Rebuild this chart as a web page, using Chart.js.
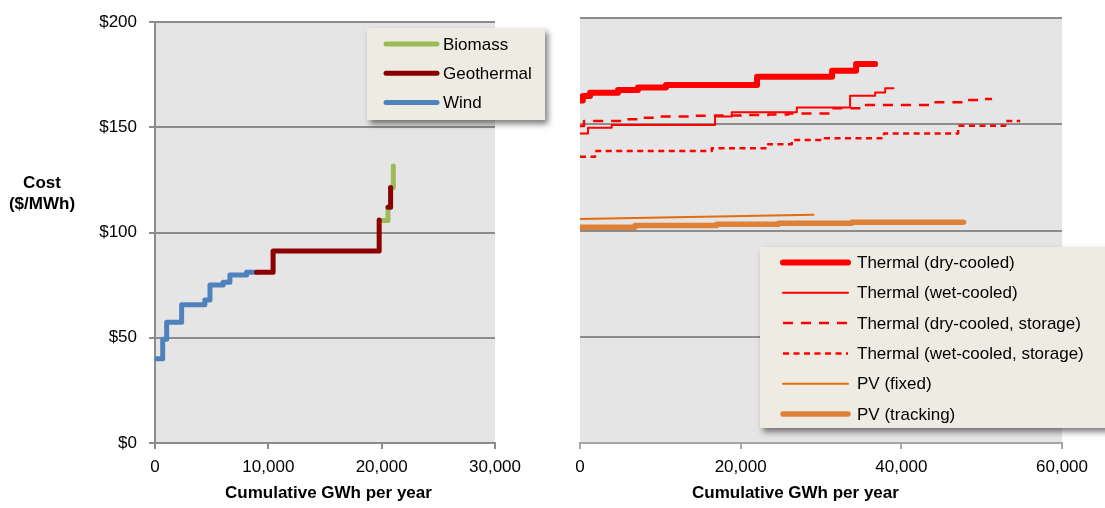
<!DOCTYPE html>
<html>
<head>
<meta charset="utf-8">
<script src="https://cdn.jsdelivr.net/npm/chart.js@4"></script>
<style>
  html, body { margin: 0; padding: 0; background: #fff; }
  #wrap { position: relative; width: 1105px; height: 508px; overflow: hidden; font-family: "Liberation Sans", Arial, sans-serif; }
  .pane { position: absolute; top: 0; height: 508px; }
  .ttl { position: absolute; font-weight: bold; font-size: 17px; line-height: 21px; color: #000; text-align: center; white-space: nowrap; }
</style>
</head>
<body>
<div id="wrap">
  <div class="pane" style="left:0;width:560px"><canvas id="supplyLeft" width="560" height="508"></canvas></div>
  <div class="pane" style="left:560px;width:545px"><canvas id="supplyRight" width="545" height="508"></canvas></div>
  <div class="ttl" style="left:0;width:84px;top:172px">Cost<br>($/MWh)</div>
  <div class="ttl" style="left:225px;width:200px;top:482px">Cumulative GWh per year</div>
  <div class="ttl" style="left:692px;width:200px;top:482px">Cumulative GWh per year</div>
</div>
<script>
// ---- Supply curves: cumulative generation (GWh/yr) vs. cost ($/MWh) ----

// Left panel
const windGWh  = [0, 680, 1030, 2350, 4400, 4850, 6020, 6610, 8080, 8960];
const windCost = [40, 49.3, 57.4, 65.7, 68, 75.1, 76.4, 79.8, 81.1, 81.1];

const geoGWh  = [8960, 10420, 19780, 19780, 20560, 20790];
const geoCost = [81.1, 91.3, 106, null, 112, 121.4];

const bioGWh  = [19780, 20560, 20560, 20790, 21030];
const bioCost = [105.7, 112, null, 121.4, 131.6];

// Right panel (solar)
const dryGWh  = [0, 350, 1250, 4730, 7220, 10700, 22040, 31380, 34370, 36740];
const dryCost = [161.2, 163.3, 164.8, 166.1, 167.3, 168.5, 172.4, 175.2, 178.3, 178.3];

const wetGWh  = [0, 1000, 3950, 16810, 18890, 26990, 33620, 36740, 37990, 39020];
const wetCost = [145.7, 148.4, 149.6, 153.6, 155.6, 157.9, 163.4, 164.9, 166.9, 166.9];

const dryStoreGWh  = [0, 500, 5600, 7700, 10000, 14000, 16800, 20000, 23450, 25950, 31340, 35080, 44000, 48150, 50020, 51300];
const dryStoreCost = [149.2, 151.5, 152.3, 153.1, 153.6, 154, 154.1, 154.3, 154.6, 155.1, 157.5, 159.1, 160.3, 161.4, 161.9, 161.9];

const wetStoreGWh  = [0, 1870, 16400, 23410, 26360, 30500, 37850, 47070, 52930, 54800];
const wetStoreCost = [134.7, 137.4, 138.7, 140.6, 142.6, 143.4, 145.7, 149.3, 151.5, 151.5];

const pvFixedGWh  = [0, 29060];
const pvFixedCost = [105.4, 107.4];

const pvTrackGWh  = [0, 6850, 17020, 24700, 33830, 47740];
const pvTrackCost = [101.5, 102.4, 102.9, 103.4, 103.9, 103.9];

// Axis ticks
const costTicks  = [0, 50, 100, 150, 200];
const leftXTicks = [0, 10000, 20000, 30000];
const rightXTicks = [0, 20000, 40000, 60000];

const pts = (xs, ys) => xs.map((x, i) => ({ x: x, y: ys[i] }));

const FONT = '"Liberation Sans", Arial, sans-serif';
Chart.defaults.font.family = FONT;
Chart.defaults.font.size = 17;
Chart.defaults.color = '#000';

const plotBg = {
  id: 'plotBg',
  beforeDraw(chart) {
    const a = chart.chartArea, ctx = chart.ctx;
    ctx.save();
    ctx.fillStyle = '#E5E5E5';
    ctx.fillRect(a.left, a.top, a.right - a.left, a.bottom - a.top);
    ctx.restore();
  }
};

const boxLegend = {
  id: 'boxLegend',
  afterDraw(chart, args, o) {
    const ctx = chart.ctx;
    ctx.save();
    ctx.shadowColor = 'rgba(0,0,0,0.5)';
    ctx.shadowBlur = 6; ctx.shadowOffsetX = 3; ctx.shadowOffsetY = 4;
    ctx.fillStyle = '#EEECE2';
    ctx.fillRect(o.left, o.top, o.width, o.height);
    ctx.restore();
    chart.data.datasets.forEach((ds, i) => {
      const y = o.firstRow + i * o.rowGap;
      ctx.save();
      ctx.strokeStyle = ds.borderColor;
      ctx.lineWidth = ds.borderWidth;
      ctx.setLineDash(ds.borderDash || []);
      ctx.lineCap = ds.borderDash ? 'butt' : 'round';
      ctx.beginPath(); ctx.moveTo(o.lineStart, y); ctx.lineTo(o.lineEnd, y); ctx.stroke();
      ctx.restore();
      ctx.save();
      ctx.fillStyle = '#000';
      ctx.font = '17px ' + FONT;
      ctx.textBaseline = 'middle';
      ctx.textAlign = 'left';
      ctx.fillText(ds.label, o.textX, y + 1);
      ctx.restore();
    });
  }
};

// 'before' = run horizontally to the next point, then rise vertically (a supply-curve step)
function line(label, xs, ys, color, width, extra) {
  return Object.assign({
    label: label, data: pts(xs, ys), borderColor: color, backgroundColor: color,
    borderWidth: width, pointRadius: 0, fill: false, stepped: 'before',
    borderCapStyle: 'round', borderJoinStyle: 'round', spanGaps: false
  }, extra || {});
}

function costAxis(showLabels, width) {
  return {
    type: 'linear', min: 0, max: 200,
    afterBuildTicks: s => { s.ticks = costTicks.map(v => ({ value: v })); },
    afterFit: s => { s.width = width; },
    ticks: { display: showLabels, padding: 12, callback: v => '$' + v, font: { size: 17 } },
    grid: { color: '#8C8C8C', lineWidth: 2, drawTicks: showLabels, tickLength: 6, tickColor: '#8C8C8C' },
    border: { display: showLabels, color: '#8C8C8C', width: 2 }
  };
}

function gwhAxis(ticks, max, borderColor) {
  return {
    type: 'linear', min: 0, max: max,
    afterBuildTicks: s => { s.ticks = ticks.map(v => ({ value: v })); },
    afterFit: s => { s.height = 65; },
    ticks: { padding: 8, maxRotation: 0, callback: v => Number(v).toLocaleString('en-US'), font: { size: 17 } },
    grid: { drawOnChartArea: false, drawTicks: true, tickLength: 6, color: borderColor, lineWidth: 2 },
    border: { color: borderColor, width: 2 }
  };
}

new Chart(document.getElementById('supplyLeft'), {
  type: 'line',
  data: {
    datasets: [
      line('Biomass', bioGWh, bioCost, '#9BBB59', 5, { order: 1 }),
      line('Geothermal', geoGWh, geoCost, '#8B0000', 5, { order: 0 }),
      line('Wind', windGWh, windCost, '#4F81BD', 5, { order: 2 })
    ]
  },
  options: {
    responsive: false, animation: false, events: [],
    layout: { padding: { top: 18, right: 65, left: 0, bottom: 0 } },
    plugins: {
      legend: { display: false }, tooltip: { enabled: false },
      boxLegend: { left: 367, top: 28, width: 178, height: 92, firstRow: 44, rowGap: 29.3,
                   lineStart: 386, lineEnd: 437, textX: 443 }
    },
    scales: { x: gwhAxis(leftXTicks, 30000, '#8C8C8C'), y: costAxis(true, 155) }
  },
  plugins: [plotBg, boxLegend]
});

new Chart(document.getElementById('supplyRight'), {
  type: 'line',
  data: {
    datasets: [
      line('Thermal (dry-cooled)', dryGWh, dryCost, '#FF0000', 6),
      line('Thermal (wet-cooled)', wetGWh, wetCost, '#FF0000', 2),
      line('Thermal (dry-cooled, storage)', dryStoreGWh, dryStoreCost, '#FF0000', 2.5,
           { borderDash: [10, 8], borderCapStyle: 'butt' }),
      line('Thermal (wet-cooled, storage)', wetStoreGWh, wetStoreCost, '#FF0000', 2.5,
           { borderDash: [6, 4.5], borderCapStyle: 'butt' }),
      line('PV (fixed)', pvFixedGWh, pvFixedCost, '#E46C0A', 2, { stepped: false }),
      line('PV (tracking)', pvTrackGWh, pvTrackCost, '#DE8036', 5.5)
    ]
  },
  options: {
    responsive: false, animation: false, events: [],
    layout: { padding: { top: 18, right: 43, left: 0, bottom: 0 } },
    plugins: {
      legend: { display: false }, tooltip: { enabled: false },
      boxLegend: { left: 200, top: 247, width: 360, height: 181, firstRow: 262.5, rowGap: 30.3,
                   lineStart: 223, lineEnd: 288, textX: 297 }
    },
    scales: { x: gwhAxis(rightXTicks, 60000, '#A6A6A6'), y: costAxis(false, 20) }
  },
  plugins: [plotBg, boxLegend]
});
</script>
</body>
</html>
